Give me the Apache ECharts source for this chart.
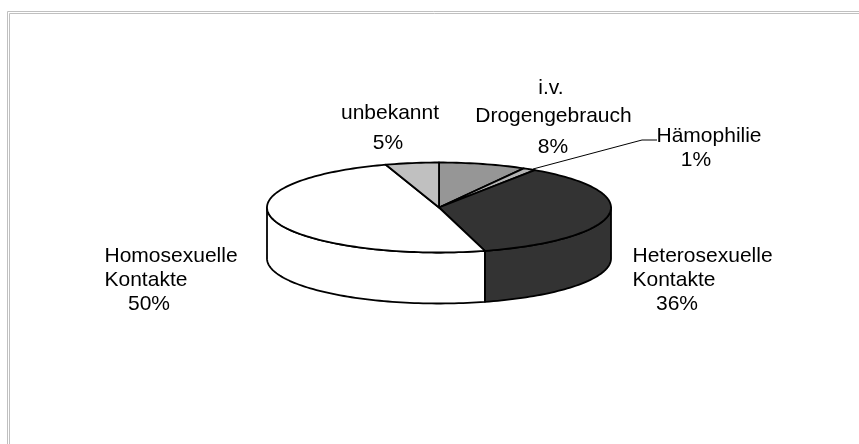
<!DOCTYPE html>
<html><head><meta charset="utf-8">
<style>html,body{margin:0;padding:0;background:#fff}#c{width:859px;height:444px}</style>
<script src="https://cdn.jsdelivr.net/npm/echarts@6/dist/echarts.min.js"></script>
</head><body><div id="c"></div>
<script>
const categories = ['i.v. Drogengebrauch','Hämophilie','Heterosexuelle Kontakte','Homosexuelle Kontakte','unbekannt'];
const shares = [8.2,1.2,36.3,49.3,5.0];
const percentLabels = ['8%','1%','36%','50%','5%'];
const colors = ['#969696','#b4b4b4','#333333','#ffffff','#c0c0c0'];
const labelLines = [
  [['i.v.',551,88,'center'],['Drogengebrauch',553.5,116,'center'],['8%',553,147,'center']],
  [['Hämophilie',656.5,136,'left'],['1%',696,160,'center']],
  [['Heterosexuelle',632.5,256,'left'],['Kontakte',632.5,280,'left'],['36%',677,304,'center']],
  [['Homosexuelle',104.5,256,'left'],['Kontakte',104.5,280,'left'],['50%',149,304,'center']],
  [['unbekannt',390,113,'center'],['5%',388,143,'center']]
];
const cx=439, cy=207.5, rx=172, ry=45, depth=51;
const total = shares.reduce((a,b)=>a+b,0);
const rim=(deg,dy=0)=>{const t=deg*Math.PI/180;return [cx+rx*Math.sin(t),cy-ry*Math.cos(t)+dy];};
const arc=(a,b,dy=0)=>{const n=Math.max(2,Math.ceil(Math.abs(b-a)/1.5));const p=[];for(let i=0;i<=n;i++)p.push(rim(a+(b-a)*i/n,dy));return p;};
const line={stroke:'#000',lineWidth:1.8,lineJoin:'round'};
function renderItem(params,api){
  const i=params.dataIndex, from=api.value(1), to=api.value(2);
  const a=from/total*360, b=to/total*360, fill=colors[i], kids=[];
  const wa=Math.max(a,90), wb=Math.min(b,270);
  if(wb>wa){
    kids.push({type:'polygon',shape:{points:arc(wa,wb).concat(arc(wb,wa,depth))},style:{fill,...line}});
  }
  kids.push({type:'polygon',shape:{points:[[cx,cy]].concat(arc(a,b))},style:{fill,...line}});
  labelLines[i].forEach(([t,x,y,al])=>kids.push({type:'text',x,y,style:{text:t,fill:'#000',font:'21px "Liberation Sans", Arial, sans-serif',align:al,verticalAlign:'middle'}}));
  return {type:'group',children:kids};
}
let acc=0;
const rows=shares.map((v,i)=>{const r=[i,acc,acc+v,v];acc+=v;return r;});
const chart=echarts.init(document.getElementById('c'),null,{renderer:'canvas'});
chart.setOption({
  animation:false,
  backgroundColor:'#fff',
  graphic:[
    {type:'polyline',z:0,shape:{points:[[859,11.5],[7.5,11.5],[7.5,444]]},style:{fill:null,stroke:'#c0c0c0',lineWidth:1}},
    {type:'polyline',z:0,shape:{points:[[859,13.5],[9.5,13.5],[9.5,444]]},style:{fill:null,stroke:'#c0c0c0',lineWidth:1}},
    {type:'polyline',z:10,shape:{points:[[533,169],[642,140],[657,140]]},style:{fill:null,stroke:'#000',lineWidth:1}}
  ],
  series:[{type:'custom',coordinateSystem:'none',renderItem,data:rows,encode:{itemName:0},silent:true,clip:false}]
});
</script></body></html>
